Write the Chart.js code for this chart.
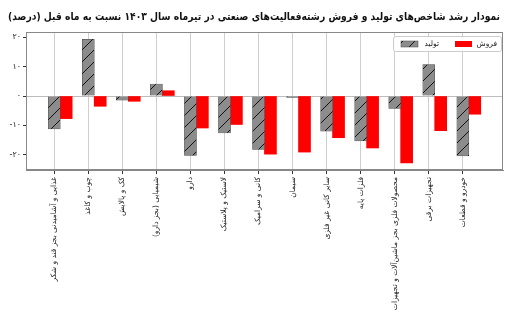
<!DOCTYPE html>
<html>
<head>
<meta charset="utf-8">
<script src="https://cdn.jsdelivr.net/npm/chart.js@4"></script>
<style>
  html, body { margin: 0; padding: 0; background: #fff; }
  #wrap { width: 506px; height: 313px; }
</style>
</head>
<body>
<div id="wrap"><canvas id="chart"></canvas></div>
<script>
const categories = [
    'غذایی و آشامیدنی بجز قند و شکر',
    'چوب و کاغذ',
    'کک و پالایش',
    'شیمیایی (بجز دارو)',
    'دارو',
    'لاستیک و پلاستیک',
    'کانی و سرامیک',
    'سیمان',
    'سایر کانی غیر فلزی',
    'فلزات پایه',
    'محصولات فلزی بجز ماشین‌آلات و تجهیزات',
    'تجهیزات برقی',
    'خودرو و قطعات'
];
const production = [-11.2, 19.3, -1.4, 4.1, -20.2, -12.6, -18.2, -0.5, -12.0, -15.3, -4.2, 10.7, -20.4];
const sales = [-7.7, -3.5, -1.8, 1.8, -10.9, -9.7, -19.8, -19.1, -14.2, -17.7, -22.8, -11.8, -6.2];
const yTicks = [-20, -10, 0, 10, 20];
const titleText = 'نمودار رشد شاخص‌های تولید و فروش رشته‌فعالیت‌های صنعتی در تیرماه سال ۱۴۰۳ نسبت به ماه قبل (درصد)';

const font = 'DejaVu Sans';
const toFa = s => String(s).replace(/\d/g, d => '۰۱۲۳۴۵۶۷۸۹'[d]);

// hatch pattern for the production bars
function hatch() {
    const c = document.createElement('canvas');
    c.width = 12; c.height = 12;
    const g = c.getContext('2d');
    g.fillStyle = '#8c8c8c';
    g.fillRect(0, 0, 12, 12);
    g.strokeStyle = '#111';
    g.lineWidth = 1;
    g.beginPath();
    g.moveTo(0, 12); g.lineTo(12, 0);
    g.moveTo(-2, 2); g.lineTo(2, -2);
    g.moveTo(10, 14); g.lineTo(14, 10);
    g.stroke();
    return g.createPattern(c, 'repeat');
}
const hatchFill = hatch();

const frame = {
    id: 'frame',
    beforeDatasetsDraw(chart) {
        const a = chart.chartArea;
        const ctx = chart.ctx;
        ctx.save();
        ctx.strokeStyle = '#888';
        ctx.lineWidth = 1;
        ctx.strokeRect(a.left + 0.5, a.top + 0.5, a.right - a.left - 1, a.bottom - a.top - 1);
        // title, squeezed to the width of the picture
        ctx.font = 'bold 11px "' + font + '"';
        ctx.fillStyle = '#111';
        ctx.textAlign = 'right';
        ctx.textBaseline = 'middle';
        ctx.fillText(titleText, 500, 17, 492);
        ctx.restore();
    },
    afterDatasetsDraw(chart) {
        // legend box in the top right corner
        const a = chart.chartArea;
        const ctx = chart.ctx;
        const x0 = a.right - 110, y0 = a.top + 4, w = 108, h = 15;
        ctx.save();
        ctx.fillStyle = 'rgba(255,255,255,0.9)';
        ctx.strokeStyle = '#ccc';
        ctx.lineWidth = 1;
        ctx.beginPath();
        ctx.roundRect(x0 + 0.5, y0 + 0.5, w, h, 2);
        ctx.fill();
        ctx.stroke();
        ctx.font = '7.5px "' + font + '"';
        ctx.fillStyle = '#222';
        ctx.textBaseline = 'middle';
        ctx.textAlign = 'right';
        const ds = chart.data.datasets;
        const cy = y0 + h / 2 + 0.5;
        // sales (right), production (left)
        ctx.fillText(ds[1].label, x0 + w - 4, cy);
        ctx.fillStyle = ds[1].backgroundColor;
        ctx.fillRect(x0 + w - 46, cy - 3, 17, 6);
        ctx.fillStyle = '#222';
        ctx.fillText(ds[0].label, x0 + 46, cy);
        ctx.fillStyle = ds[0].backgroundColor;
        ctx.fillRect(x0 + 8, cy - 3, 17, 6);
        ctx.strokeStyle = '#444';
        ctx.lineWidth = 0.5;
        ctx.strokeRect(x0 + 8, cy - 3, 17, 6);
        ctx.restore();
    }
};

new Chart(document.getElementById('chart'), {
    type: 'bar',
    data: {
        datasets: [{
            label: 'تولید',
            data: production.map((v, i) => ({ x: i, y: v })),
            backgroundColor: hatchFill,
            borderColor: '#444',
            borderWidth: 0.5,
            barThickness: 12,
            grouped: false
        }, {
            label: 'فروش',
            data: sales.map((v, i) => ({ x: i + 0.35, y: v })),
            backgroundColor: '#ff0000',
            borderWidth: 0,
            barThickness: 12,
            grouped: false
        }]
    },
    options: {
        responsive: true,
        maintainAspectRatio: false,
        animation: false,
        layout: { padding: { left: 0, right: 3, top: 32, bottom: 0 } },
        plugins: {
            legend: { display: false },
            tooltip: { enabled: false },
            title: { display: false }
        },
        scales: {
            x: {
                type: 'linear',
                offset: false,
                min: -0.83,
                max: 13.18,
                afterBuildTicks: s => { s.ticks = categories.map((c, i) => ({ value: i })); },
                afterFit: s => { s.height = 143; },
                ticks: {
                    autoSkip: false,
                    minRotation: 90,
                    maxRotation: 90,
                    padding: 3,
                    color: '#222',
                    font: { family: font, size: 7.5 },
                    callback: v => categories[v]
                },
                grid: { offset: false, color: '#cfcfcf', tickColor: '#333', tickLength: 4 },
                border: { display: true, color: '#888' }
            },
            y: {
                min: -25.2,
                max: 21.8,
                afterBuildTicks: s => { s.ticks = yTicks.map(v => ({ value: v })); },
                afterFit: s => { s.width = 26; },
                ticks: {
                    padding: 2,
                    color: '#222',
                    font: { family: font, size: 8 },
                    callback: v => toFa(v)
                },
                grid: {
                    color: c => (c.tick && c.tick.value === 0) ? '#bdbdbd' : 'rgba(0,0,0,0)',
                    tickColor: '#333',
                    tickLength: 3
                },
                border: { display: true, color: '#888' }
            }
        }
    },
    plugins: [frame]
});
</script>
</body>
</html>
